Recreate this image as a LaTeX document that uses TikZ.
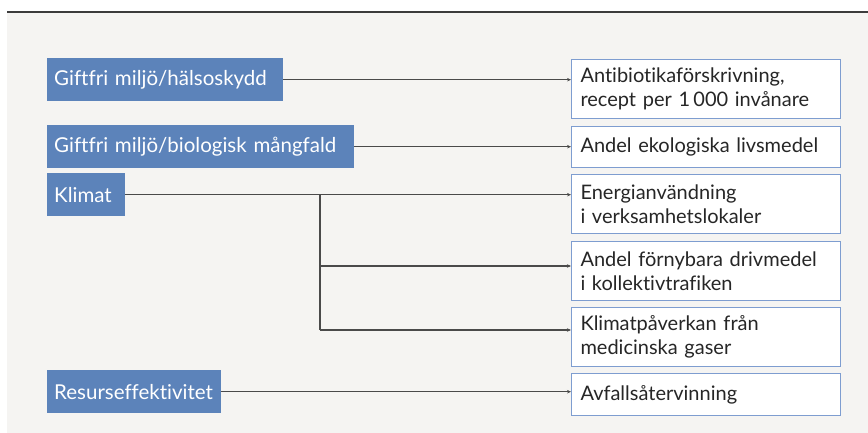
\documentclass[tikz,border=0pt]{standalone}
\usepackage{fontspec}
\setmainfont{Lato}[Ligatures={NoCommon}]
\usetikzlibrary{arrows.meta}
\definecolor{bg}{HTML}{F5F4F2}
\definecolor{goalblue}{HTML}{5C83BA}
\definecolor{boxedge}{HTML}{7E9DD0}
\definecolor{linegray}{HTML}{4A4A4A}
\definecolor{topline}{HTML}{3C3C3C}
\tikzset{
  goal/.style={fill=goalblue, text=white, anchor=north west, inner xsep=7pt, inner ysep=0pt,
    align=left, font=\fontsize{20.5}{22}\selectfont},
  ind/.style={draw=boxedge, line width=1pt, fill=white, text=black!85, anchor=north west,
    inner xsep=9pt, inner ysep=0pt, align=left, font=\fontsize{20}{24}\selectfont},
  conn/.style={draw=linegray, line width=1.1pt},
  arr/.style={conn, -{Stealth[length=4pt,width=3.5pt]}}
}
\begin{document}
\begin{tikzpicture}[x=1pt,y=-1pt]
\useasboundingbox (0,0) rectangle (868,433);
\fill[white] (0,0) rectangle (868,433);
\fill[bg] (7,12) rectangle (868,432.5);
\draw[topline, line width=2pt] (7,12) -- (868,12);
% goal boxes
\node[goal, minimum width=236pt, minimum height=43pt, text width=222pt] (g1) at (47,58) {Giftfri miljö/hälsoskydd};
\node[goal, minimum width=307pt, minimum height=43pt, text width=293pt] (g2) at (47,125) {Giftfri miljö/biologisk mångfald};
\node[goal, minimum width=78pt, minimum height=43pt, text width=64pt] (g3) at (47,173) {Klimat};
\node[goal, minimum width=174pt, minimum height=43pt, text width=160pt] (g4) at (47,370) {Resurseffektivitet};
% indicator boxes
\node[ind, minimum width=269pt, minimum height=59pt, text width=251pt] (r1) at (571,59) {Antibiotikaförskrivning,\\recept per 1\,000 invånare};
\node[ind, minimum width=269pt, minimum height=41pt, text width=251pt] (r2) at (571,126) {Andel ekologiska livsmedel};
\node[ind, minimum width=269pt, minimum height=59pt, text width=251pt] (r3) at (571,174) {Energianvändning\\i verksamhetslokaler};
\node[ind, minimum width=269pt, minimum height=59pt, text width=251pt] (r4) at (571,241) {Andel förnybara drivmedel\\i kollektivtrafiken};
\node[ind, minimum width=269pt, minimum height=59pt, text width=251pt] (r5) at (571,307) {Klimatpåverkan från\\medicinska gaser};
\node[ind, minimum width=269pt, minimum height=42pt, text width=251pt] (r6) at (571,373) {Avfallsåtervinning};
% connectors
\coordinate (b4) at (320,266);
\coordinate (b5) at (320,330);
\draw[arr] (g1.east) -- (g1.east -| r1.west);
\draw[arr] (g2.east) -- (g2.east -| r2.west);
\draw[arr] (g3.east) -- (g3.east -| r3.west);
\draw[conn] (g3.east -| b5) -- (b5);
\draw[arr] (b4) -- (b4 -| r4.west);
\draw[arr] (b5) -- (b5 -| r5.west);
\draw[arr] (g4.east) -- (g4.east -| r6.west);
\end{tikzpicture}
\end{document}
